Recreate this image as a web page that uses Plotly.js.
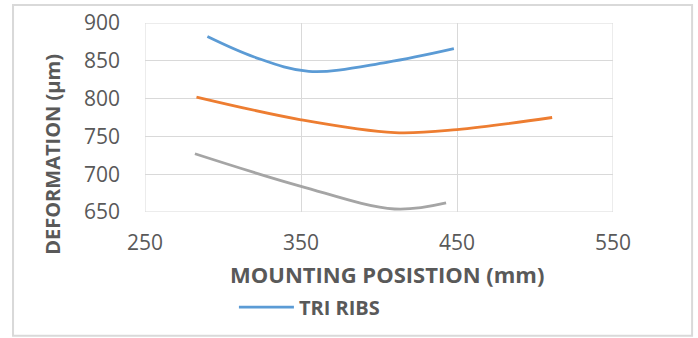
<!DOCTYPE html>
<html>
<head>
<meta charset="utf-8">
<script src="https://cdn.plot.ly/plotly-3.0.1.min.js"></script>
<style>
  html, body { margin: 0; padding: 0; background: #fff; }
  #chart { width: 698px; height: 338px; }
</style>
</head>
<body>
<div id="chart"></div>
<script>
// Deformation versus mounting position for three rib layouts
const triRibsX = [290, 320, 355, 405, 448];
const triRibsY = [882, 855, 836, 848, 866];

const series2X = [283, 350, 410, 450, 511];
const series2Y = [802, 772, 755, 759, 775];

const series3X = [282, 350, 410, 443];
const series3Y = [727, 684, 654, 662];

const xTicks = [250, 350, 450, 550];
const yTicks = [650, 700, 750, 800, 850, 900];

const xTitle = 'MOUNTING POSISTION (mm)';
const yTitle = 'DEFORMATION (µm)';

const fontFamily = '"Open Sans", Lato, "Liberation Sans", sans-serif';
const textGrey = '#595959';
const gridGrey = '#D9D9D9';

const traces = [
  {
    x: triRibsX, y: triRibsY, name: '<b>TRI RIBS</b>', mode: 'lines',
    line: { color: '#5B9BD5', width: 2.8, shape: 'spline', smoothing: 1 },
    showlegend: true
  },
  {
    x: series2X, y: series2Y, name: 'Series 2', mode: 'lines',
    line: { color: '#ED7D31', width: 2.8, shape: 'spline', smoothing: 1 },
    showlegend: false
  },
  {
    x: series3X, y: series3Y, name: 'Series 3', mode: 'lines',
    line: { color: '#A5A5A5', width: 2.8, shape: 'spline', smoothing: 1 },
    showlegend: false
  }
];

const layout = {
  width: 698, height: 338,
  margin: { l: 145, r: 85, t: 23, b: 126 },
  paper_bgcolor: '#fff', plot_bgcolor: '#fff',
  font: { family: fontFamily, color: textGrey, size: 20 },
  xaxis: {
    range: [250, 550], tickvals: xTicks, ticktext: xTicks.map(String),
    showgrid: true, gridcolor: gridGrey, gridwidth: 1,
    zeroline: false, showline: false, ticks: '',
    ticklabelstandoff: 16,
    tickfont: { size: 21, color: textGrey, family: fontFamily }
  },
  yaxis: {
    range: [650, 900], tickvals: yTicks, ticktext: yTicks.map(String),
    showgrid: true, gridcolor: gridGrey, gridwidth: 1,
    zeroline: false, showline: false, ticks: '',
    ticklabelstandoff: 24,
    tickfont: { size: 21, color: textGrey, family: fontFamily }
  },
  annotations: [
    { text: '<b>' + xTitle + '</b>', xref: 'paper', yref: 'paper', x: 0.517, y: -0.328,
      xanchor: 'center', yanchor: 'middle', showarrow: false,
      font: { size: 22, color: textGrey, family: fontFamily } },
    { text: '<b>' + yTitle + '</b>', xref: 'paper', yref: 'paper', x: -0.197, y: 0.307,
      xanchor: 'center', yanchor: 'middle', showarrow: false, textangle: -90,
      font: { size: 20, color: textGrey, family: fontFamily } }
  ],
  showlegend: true,
  legend: {
    x: 0.19, y: -0.503, xanchor: 'left', yanchor: 'middle',
    orientation: 'h', bgcolor: 'rgba(0,0,0,0)', itemwidth: 55,
    font: { size: 20, color: textGrey, family: fontFamily }
  },
  shapes: [
    // plot area frame at the axis limits
    { type: 'rect', xref: 'x', yref: 'y', x0: 250, x1: 550, y0: 650, y1: 900,
      line: { color: gridGrey, width: 1 }, layer: 'below' },
    // chart border
    { type: 'rect', xref: 'paper', yref: 'paper', x0: -0.282, x1: 1.169, y0: -0.655, y1: 1.095,
      line: { color: gridGrey, width: 2 } }
  ]
};

Plotly.newPlot('chart', traces, layout, { displayModeBar: false, staticPlot: true });
</script>
</body>
</html>
